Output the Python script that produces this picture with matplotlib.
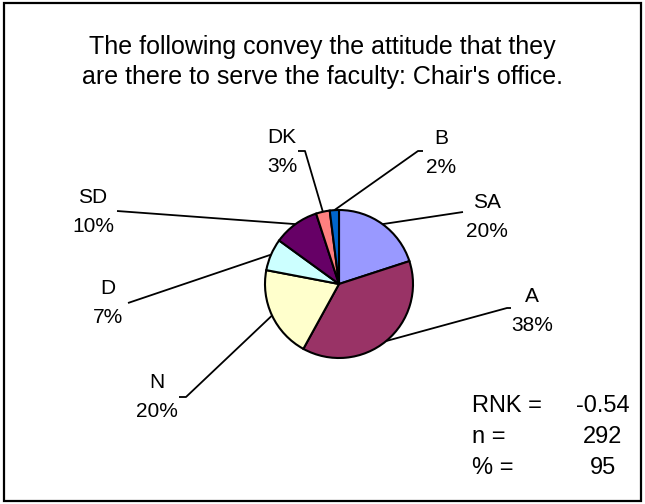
import numpy as np
import matplotlib
matplotlib.use('Agg')
import matplotlib.pyplot as plt
from matplotlib.patches import Rectangle

plt.rcParams['font.family'] = ['Liberation Sans', 'DejaVu Sans']

# Data
labels = ['SA', 'A', 'N', 'D', 'SD', 'DK', 'B']
values = [20, 38, 20, 7, 10, 3, 2]
colors = ['#9999FF', '#993366', '#FFFFCC', '#CCFFFF', '#660066', '#FF8080', '#0066CC']
stat_names = ['RNK =', 'n =', '% =']
stat_values = ['-0.54', '292', '95']
title = "The following convey the attitude that they\nare there to serve the faculty: Chair's office."

W, H = 645, 504
fig = plt.figure(figsize=(6.45, 5.04), dpi=100)
ax = fig.add_axes([0, 0, 1, 1])

# pie in pixel-like coordinates (y up)
cx, cy, r = 339, H - 284, 74
wedges, _ = ax.pie(values, colors=colors, startangle=90, counterclock=False,
                   center=(cx, cy), radius=r,
                   wedgeprops=dict(edgecolor='black', linewidth=1.5))
ax.set_xlim(0, W)
ax.set_ylim(0, H)
ax.set_aspect('equal')
ax.axis('off')

# leader line end (x, y from top) and stub direction, label block centre
leader_end = [(463, 212), (507, 308), (186, 397), (128, 303), (117, 211), (305, 151), (418, 151)]
stub = [0, 4, -7, 0, 0, -7, 5]
label_pos = [(487, 217), (532, 311), (157, 397), (108, 303), (93, 212), (282, 152), (441, 153)]

for w, (ex, ey), s, (lx, ly), lab, v in zip(wedges, leader_end, stub, label_pos, labels, values):
    ang = np.deg2rad((w.theta1 + w.theta2) / 2)
    sx, sy = cx + r * np.cos(ang), cy + r * np.sin(ang)
    xs, ys = [sx, ex], [sy, H - ey]
    if s:
        xs.append(ex + s)
        ys.append(H - ey)
    ax.plot(xs, ys, color='black', lw=1.3, solid_capstyle='butt')
    ax.text(lx, H - ly, f'{lab}\n{v}%', ha='center', va='center',
            fontsize=15, linespacing=1.62)

ax.text(W / 2, H - 62, title, ha='center', va='center', fontsize=18, linespacing=1.36)

for i, (nm, val) in enumerate(zip(stat_names, stat_values)):
    y = H - (406 + 31 * i)
    ax.text(472, y, nm, ha='left', va='center', fontsize=17)
    ax.text(603, y, val, ha='center', va='center', fontsize=17)

fig.add_artist(Rectangle((4 / W, 3 / H), 637 / W, 498 / H, transform=fig.transFigure,
                         fill=False, edgecolor='black', lw=1.6))

fig.savefig('out.png', dpi=100)
